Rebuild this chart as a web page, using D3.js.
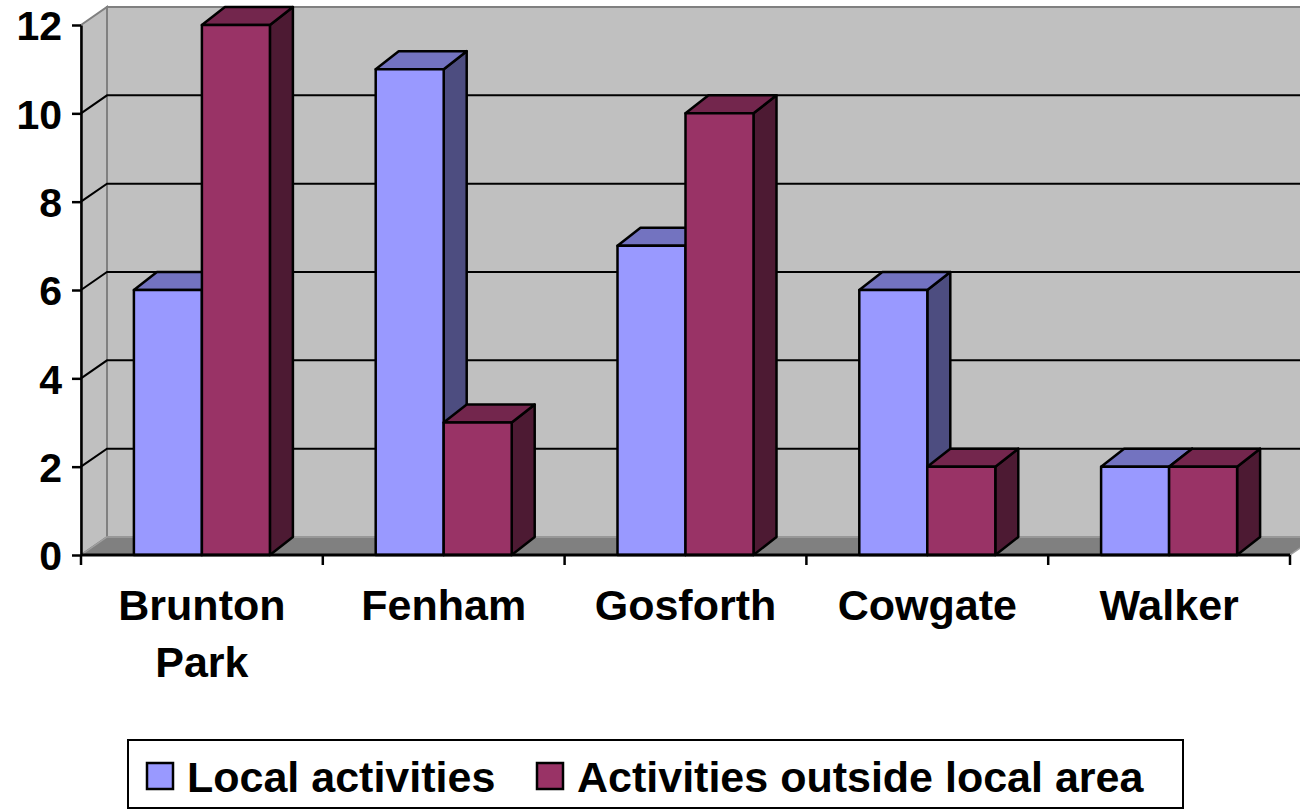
<!DOCTYPE html>
<meta charset="utf-8">
<style>
body { margin: 0; background: #fff; }
text { font-family: "Liberation Sans", Arial, sans-serif; font-weight: bold; fill: #000; }
.wall { fill: #c0c0c0; stroke: #808080; stroke-width: 2px; }
.floor { fill: #808080; stroke: #a0a0a0; stroke-width: 1.5px; }
.grid { stroke: #000; stroke-width: 2px; fill: none; }
.bar { stroke: #000; stroke-width: 2.5px; stroke-linejoin: round; }
.axis path, .axis line { stroke: #000; stroke-width: 2.5px; }
</style>
<body>
<script src="https://cdn.jsdelivr.net/npm/d3@7/dist/d3.min.js"></script>
<script>

var categories = ["Brunton Park", "Fenham", "Gosforth", "Cowgate", "Walker"];
var series = ["Local activities", "Activities outside local area"];
var localValues = [6, 11, 7, 6, 2];
var outsideValues = [12, 3, 10, 2, 2];
var yTicks = [0, 2, 4, 6, 8, 10, 12];

var colors = {
  "Local activities": {front: "#9999ff", top: "#7373c0", side: "#4d4d80"},
  "Activities outside local area": {front: "#993366", top: "#73264d", side: "#4d1a33"}
};

var width = 1300, height = 809;
var plotLeft = 81, plotRight = 1290, plotBottom = 555, plotTop = 25;
var wdx = 26, wdy = -18;   // depth of walls
var bdx = 23, bdy = -18;   // depth of bars

var svg = d3.select("body").append("svg")
    .attr("width", width)
    .attr("height", height);

var x = d3.scaleBand().domain(categories).range([plotLeft, plotRight]);
var y = d3.scaleLinear().domain([0, 12]).range([plotBottom, plotTop]);
var xs = d3.scaleBand().domain(series).range([-68, 68]);

var line = d3.line();
var farX = plotRight + wdx;

// back wall, side wall, floor
svg.append("path").attr("class", "wall")
    .attr("d", line([[plotLeft + wdx, plotTop + wdy], [farX, plotTop + wdy], [farX, plotBottom + wdy], [plotLeft + wdx, plotBottom + wdy]]) + "Z");
svg.append("path").attr("class", "wall")
    .attr("d", line([[plotLeft, plotTop], [plotLeft + wdx, plotTop + wdy], [plotLeft + wdx, plotBottom + wdy], [plotLeft, plotBottom]]) + "Z");
svg.append("path").attr("class", "floor")
    .attr("d", line([[plotLeft, plotBottom], [plotLeft + wdx, plotBottom + wdy], [farX, plotBottom + wdy], [plotRight, plotBottom]]) + "Z");

// gridlines
yTicks.filter(function(v) { return v > 0 && v < 12; }).forEach(function(v) {
  svg.append("path").attr("class", "grid")
      .attr("d", line([[plotLeft, y(v)], [plotLeft + wdx, y(v) + wdy], [farX, y(v) + wdy]]));
});

// bars
var data = [];
categories.forEach(function(c, i) {
  data.push({cat: c, s: series[0], v: localValues[i]});
  data.push({cat: c, s: series[1], v: outsideValues[i]});
});

data.forEach(function(d) {
  var cx = x(d.cat) + x.bandwidth() / 2;
  var x0 = cx + xs(d.s), x1 = x0 + xs.bandwidth();
  var yt = y(d.v), yb = y(0);
  var c = colors[d.s];
  var g = svg.append("g");
  g.append("path").attr("class", "bar").attr("fill", c.side)
      .attr("d", line([[x1, yt], [x1 + bdx, yt + bdy], [x1 + bdx, yb + bdy], [x1, yb]]) + "Z");
  g.append("path").attr("class", "bar").attr("fill", c.top)
      .attr("d", line([[x0, yt], [x0 + bdx, yt + bdy], [x1 + bdx, yt + bdy], [x1, yt]]) + "Z");
  g.append("rect").attr("class", "bar").attr("fill", c.front)
      .attr("x", x0).attr("y", yt).attr("width", x1 - x0).attr("height", yb - yt);
});

// y axis
var yAxis = svg.append("g").attr("class", "axis")
    .attr("transform", "translate(" + plotLeft + ",0)")
    .call(d3.axisLeft(y).tickValues(yTicks).tickSize(9).tickPadding(10).tickSizeOuter(0));
yAxis.selectAll("text").style("font-size", "41px").attr("dy", "0.36em");

// x axis
svg.append("line").attr("stroke", "#000").attr("stroke-width", 3)
    .attr("x1", plotLeft).attr("x2", plotRight).attr("y1", plotBottom).attr("y2", plotBottom);
var xTickPos = categories.map(function(c) { return x(c); }).concat([plotRight]);
svg.selectAll(".xtick").data(xTickPos).enter().append("line")
    .attr("stroke", "#000").attr("stroke-width", 2.5)
    .attr("x1", function(d) { return d; }).attr("x2", function(d) { return d; })
    .attr("y1", plotBottom).attr("y2", plotBottom + 10);

svg.selectAll(".xlabel").data(categories).enter().append("text")
    .attr("text-anchor", "middle")
    .style("font-size", "43px")
    .each(function(c) {
      var words = c.split(" ");
      var t = d3.select(this);
      var cx = x(c) + x.bandwidth() / 2;
      words.forEach(function(w, i) {
        t.append("tspan").attr("x", cx).attr("y", 620 + i * 57).text(w);
      });
    });

// legend
var legend = svg.append("g");
legend.append("rect").attr("x", 128).attr("y", 740).attr("width", 1055).attr("height", 68)
    .attr("fill", "#fff").attr("stroke", "#000").attr("stroke-width", 2);
var legX = [147, 537];
series.forEach(function(s, i) {
  legend.append("rect").attr("x", legX[i]).attr("y", 763).attr("width", 26).attr("height", 26)
      .attr("fill", colors[s].front).attr("stroke", "#000").attr("stroke-width", 2.5);
  legend.append("text").attr("x", legX[i] + 40).attr("y", 792)
      .style("font-size", "43px").text(s);
});

</script>
